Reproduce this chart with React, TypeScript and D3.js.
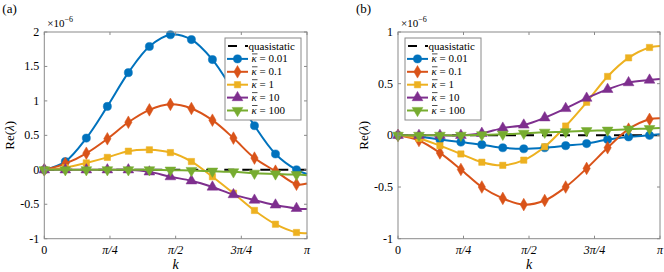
import { useEffect, useRef } from "react";
import * as d3 from "d3";

// k values (markers at every point except the last one, k = pi)
const K = [0, 0.2513, 0.5027, 0.754, 1.0053, 1.2566, 1.508, 1.7593, 2.0106, 2.2619, 2.5133, 2.7646, 3.0159, 3.1416];

// panel (a), units of 1e-6
const A_K001 = [0, 0.12, 0.46, 0.92, 1.41, 1.79, 1.96, 1.89, 1.6, 1.14, 0.64, 0.23, 0.0, -0.06];
const A_K01 = [0, 0.09, 0.24, 0.45, 0.69, 0.87, 0.95, 0.89, 0.72, 0.46, 0.17, -0.02, -0.21, -0.2];
const A_K1 = [0, 0.03, 0.1, 0.18, 0.27, 0.29, 0.25, 0.12, -0.1, -0.34, -0.59, -0.79, -0.91, -0.92];
const A_K10 = [0, 0, 0, 0, 0, -0.03, -0.1, -0.16, -0.25, -0.36, -0.44, -0.51, -0.56, -0.57];
const A_K100 = [0, 0, 0, 0, 0, 0, -0.005, -0.01, -0.02, -0.03, -0.05, -0.06, -0.07, -0.08];

// panel (b), units of 1e-6
const B_K001 = [0, -0.01, -0.04, -0.065, -0.09, -0.12, -0.13, -0.12, -0.1, -0.08, -0.04, -0.015, 0.0, 0.01];
const B_K01 = [0, -0.05, -0.17, -0.33, -0.5, -0.61, -0.67, -0.63, -0.5, -0.32, -0.12, 0.06, 0.155, 0.165];
const B_K1 = [0, -0.03, -0.1, -0.18, -0.26, -0.29, -0.24, -0.11, 0.09, 0.32, 0.57, 0.75, 0.85, 0.865];
const B_K10 = [0, 0, 0, 0, 0.02, 0.07, 0.1, 0.17, 0.26, 0.36, 0.445, 0.51, 0.535, 0.545];
const B_K100 = [0, 0, 0, 0, 0.005, 0.01, 0.02, 0.03, 0.035, 0.045, 0.05, 0.06, 0.065, 0.07];

const KAPPAS = ["0.01", "0.1", "1", "10", "100"];
const COLORS = ["#0072BD", "#D95319", "#EDB120", "#7E2F8E", "#77AC30"];
const X_TICKS = [0, Math.PI / 4, Math.PI / 2, (3 * Math.PI) / 4, Math.PI];
const X_LABELS = ["0", "π/4", "π/2", "3π/4", "π"];
const A_Y_TICKS = [-1, -0.5, 0, 0.5, 1, 1.5, 2];
const B_Y_TICKS = [-1, -0.5, 0, 0.5, 1];

const FONT = "Liberation Serif";
const AXIS = "#8a8a8a";

const symbols = [
  { type: d3.symbolCircle, size: 52, rot: 0 },
  { type: d3.symbolDiamond, size: 46, rot: 0 },
  { type: d3.symbolSquare, size: 40, rot: 0 },
  { type: d3.symbolTriangle, size: 50, rot: 0 },
  { type: d3.symbolTriangle, size: 50, rot: 180 },
];

type Panel = {
  label: string;
  x0: number;
  x1: number;
  yDomain: [number, number];
  yTicks: number[];
  series: number[][];
  legendX: number;
};

function drawPanel(svg: d3.Selection<SVGSVGElement, unknown, null, undefined>, p: Panel) {
  const top = 32, bottom = 238.7;
  const x = d3.scaleLinear().domain([0, Math.PI]).range([p.x0, p.x1]);
  const y = d3.scaleLinear().domain(p.yDomain).range([bottom, top]);
  const g = svg.append("g").style("font-family", FONT);

  // quasistatic (zero line)
  g.append("line")
    .attr("x1", x(0)).attr("x2", x(Math.PI))
    .attr("y1", y(0)).attr("y2", y(0))
    .attr("stroke", "#000").attr("stroke-width", 2)
    .attr("stroke-dasharray", "10,8");

  const line = d3.line<number>()
    .x((_, i) => x(K[i]))
    .y((d) => y(d))
    .curve(d3.curveCatmullRom.alpha(0.5));

  p.series.forEach((vals, si) => {
    g.append("path")
      .datum(vals)
      .attr("d", line)
      .attr("fill", "none")
      .attr("stroke", COLORS[si])
      .attr("stroke-width", 2);
    const s = symbols[si];
    const sym = d3.symbol().type(s.type).size(s.size);
    g.selectAll(null)
      .data(vals.slice(0, vals.length - 1))
      .join("path")
      .attr("d", sym)
      .attr("transform", (d, i) => `translate(${x(K[i])},${y(d)}) rotate(${s.rot})`)
      .attr("fill", COLORS[si])
      .attr("stroke", COLORS[si])
      .attr("stroke-width", 0.5);
  });

  // box + ticks
  g.append("rect")
    .attr("x", p.x0).attr("y", top)
    .attr("width", p.x1 - p.x0).attr("height", bottom - top)
    .attr("fill", "none").attr("stroke", AXIS).attr("stroke-width", 1);

  X_TICKS.forEach((t, i) => {
    const xx = x(t);
    g.append("line").attr("x1", xx).attr("x2", xx).attr("y1", bottom).attr("y2", bottom - 3).attr("stroke", AXIS);
    g.append("line").attr("x1", xx).attr("x2", xx).attr("y1", top).attr("y2", top + 3).attr("stroke", AXIS);
    g.append("text")
      .attr("x", xx).attr("y", 254)
      .attr("text-anchor", "middle")
      .attr("font-size", 12)
      .attr("font-style", i === 0 ? "normal" : "italic")
      .text(X_LABELS[i]);
  });

  p.yTicks.forEach((t) => {
    const yy = y(t);
    g.append("line").attr("x1", p.x0).attr("x2", p.x0 + 3).attr("y1", yy).attr("y2", yy).attr("stroke", AXIS);
    g.append("line").attr("x1", p.x1).attr("x2", p.x1 - 3).attr("y1", yy).attr("y2", yy).attr("stroke", AXIS);
    g.append("text")
      .attr("x", p.x0 - 5).attr("y", yy + 4)
      .attr("text-anchor", "end")
      .attr("font-size", 12)
      .text(String(t));
  });

  // exponent
  const ex = g.append("text")
    .attr("x", p.x0 + 3).attr("y", 27)
    .attr("font-size", 11);
  ex.append("tspan").text("×10");
  ex.append("tspan").attr("dy", -5).attr("font-size", 8).text("−6");

  // panel label
  g.append("text")
    .attr("x", p.x0 - 42).attr("y", 13)
    .attr("font-size", 13)
    .text(p.label);

  // axis labels
  g.append("text")
    .attr("x", (p.x0 + p.x1) / 2).attr("y", 269)
    .attr("text-anchor", "middle")
    .attr("font-size", 14).attr("font-style", "italic")
    .text("k");

  const yl = g.append("text")
    .attr("transform", `translate(${p.x0 - 30},${(top + bottom) / 2}) rotate(-90)`)
    .attr("text-anchor", "middle")
    .attr("font-size", 13);
  yl.append("tspan").text("Re(");
  yl.append("tspan").attr("font-style", "italic").text("λ");
  yl.append("tspan").text(")");

  // legend
  const lx = p.legendX, ly = 38, lw = 76, lh = 82, rowH = 12.9, r0 = 46;
  const lg = g.append("g");
  lg.append("rect")
    .attr("x", lx).attr("y", ly).attr("width", lw).attr("height", lh)
    .attr("fill", "#fff").attr("stroke", AXIS).attr("stroke-width", 1);

  lg.append("line")
    .attr("x1", lx + 3).attr("x2", lx + 23)
    .attr("y1", r0).attr("y2", r0)
    .attr("stroke", "#000").attr("stroke-width", 2)
    .attr("stroke-dasharray", "9,8");
  lg.append("text")
    .attr("x", lx + 23.5).attr("y", r0 + 3.5)
    .attr("font-size", 11)
    .text("quasistatic");

  KAPPAS.forEach((kv, i) => {
    const yy = r0 + rowH * (i + 1);
    lg.append("line")
      .attr("x1", lx + 2).attr("x2", lx + 23)
      .attr("y1", yy).attr("y2", yy)
      .attr("stroke", COLORS[i]).attr("stroke-width", 2);
    const s = symbols[i];
    lg.append("path")
      .attr("d", d3.symbol().type(s.type).size(s.size)())
      .attr("transform", `translate(${lx + 12.5},${yy}) rotate(${s.rot})`)
      .attr("fill", COLORS[i]).attr("stroke", COLORS[i]).attr("stroke-width", 0.5);
    const tx = lx + 26.5;
    lg.append("line")
      .attr("x1", tx + 0.5).attr("x2", tx + 6)
      .attr("y1", yy - 5).attr("y2", yy - 5)
      .attr("stroke", "#000").attr("stroke-width", 0.7);
    const t = lg.append("text")
      .attr("x", tx).attr("y", yy + 3.5)
      .attr("font-size", 11);
    t.append("tspan").attr("font-style", "italic").text("κ");
    t.append("tspan").text(` = ${kv}`);
  });
}

export default function App() {
  const ref = useRef<SVGSVGElement>(null);

  useEffect(() => {
    if (!ref.current) return;
    const svg = d3.select(ref.current);
    svg.selectAll("*").remove();

    drawPanel(svg, {
      label: "(a)", x0: 44.3, x1: 307, yDomain: [-1, 2], yTicks: A_Y_TICKS,
      series: [A_K001, A_K01, A_K1, A_K10, A_K100], legendX: 225,
    });
    drawPanel(svg, {
      label: "(b)", x0: 398, x1: 660, yDomain: [-1, 1], yTicks: B_Y_TICKS,
      series: [B_K001, B_K01, B_K1, B_K10, B_K100], legendX: 405,
    });
  }, []);

  return (
    <svg
      ref={ref}
      width={664}
      height={272}
      style={{ position: "fixed", left: 0, top: 0, background: "#fff", display: "block" }}
    />
  );
}
